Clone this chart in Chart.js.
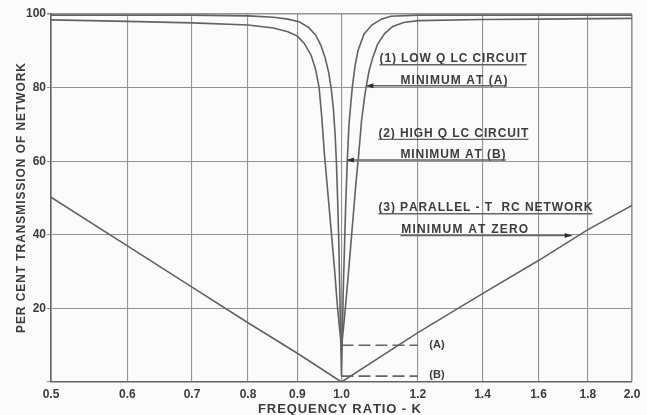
<!DOCTYPE html>
<html>
<head>
<meta charset="utf-8">
<script src="https://cdn.jsdelivr.net/npm/chart.js@4.4.1/dist/chart.umd.min.js"></script>
<style>
  html, body { margin:0; padding:0; background:#fbfbfb; }
  #wrap { width:647px; height:415px; }
</style>
</head>
<body>
<div id="wrap"><canvas id="chart" width="647" height="415"></canvas></div>
<script>
// Axis ticks
const kTicks = [0.5, 0.6, 0.7, 0.8, 0.9, 1.0, 1.2, 1.4, 1.6, 1.8, 2.0];
const yTicks = [0, 20, 40, 60, 80, 100];

// (1) Low Q LC circuit
const lowQK = [0.5, 0.6, 0.7, 0.8, 0.85, 0.88, 0.9, 0.915, 0.93, 0.94, 0.948, 0.954, 0.96, 0.966, 0.972, 0.978, 0.984, 0.99, 0.995, 1.0,
  1.005, 1.01, 1.017, 1.023, 1.029, 1.035, 1.042, 1.049, 1.056, 1.061, 1.068, 1.077, 1.09, 1.108, 1.13, 1.16, 1.2, 1.4, 1.6, 2.0];
const lowQT = [98.4, 98.0, 97.6, 97.0, 96.2, 95.2, 94.0, 92.0, 88.8, 85.0, 80.0, 72.0, 62.0, 54.0, 46.0, 38.0, 30.0, 21.0, 15.0, 10.0,
  15.0, 21.0, 30.0, 38.0, 46.0, 54.0, 62.0, 71.0, 77.0, 80.5, 84.5, 88.0, 91.8, 94.6, 96.6, 97.7, 98.2, 98.5, 98.6, 98.8];

// (2) High Q LC circuit
const highQK = [0.5, 0.7, 0.8, 0.85, 0.88, 0.905, 0.925, 0.94, 0.952, 0.962, 0.97, 0.976, 0.981, 0.985, 0.988, 0.991, 0.994, 0.996, 0.998, 1.0,
  1.002, 1.004, 1.007, 1.01, 1.014, 1.018, 1.026, 1.033, 1.04, 1.055, 1.075, 1.1, 1.125, 1.2, 2.0];
const highQT = [99.7, 99.7, 99.5, 99.1, 98.6, 97.8, 96.3, 94.3, 91.5, 88.0, 84.0, 79.5, 74.0, 67.0, 59.5, 49.0, 36.0, 24.0, 12.0, 1.6,
  12.0, 24.0, 36.0, 48.0, 60.5, 70.0, 80.0, 86.0, 90.0, 94.5, 97.0, 98.6, 99.4, 99.7, 99.7];

// (3) Parallel-T RC network
const rcK = [0.5, 0.6, 0.7, 0.8, 0.9, 1.0, 1.2, 1.4, 1.6, 1.8, 2.0];
const rcT = [50.2, 37.0, 25.8, 16.1, 7.8, 0.0, 13.4, 24.0, 33.0, 41.4, 48.0];

// Minimum markers (A) and (B)
const markK = [1.0, 1.2];
const minA = 10;
const minB = 1.6;

const ink = '#3c3c3c';
const lineColor = '#626262';
const gridColor = '#939393';
const frameColor = '#646464';

function pts(xs, ys){
  return xs.map((x, i) => ({x: x, y: ys[i]}));
}

function curve(data){
  return {data: data, showLine: true, borderColor: lineColor, borderWidth: 1.6,
    pointRadius: 0, tension: 0, fill: false};
}

// notes in data space (k, percent)
const noteText = [
  {text: '(1) LOW Q LC CIRCUIT', k: 1.095, t: 86.9, w: 147, under: true},
  {text: 'MINIMUM AT (A)', k: 1.151, t: 81.1, w: 107},
  {text: '(2) HIGH Q LC CIRCUIT', k: 1.092, t: 66.6, w: 150, under: true},
  {text: 'MINIMUM AT (B)', k: 1.151, t: 60.9, w: 105},
  {text: '(3) PARALLEL - T  RC NETWORK', k: 1.092, t: 46.4, w: 214, under: true},
  {text: 'MINIMUM AT ZERO', k: 1.153, t: 40.5, w: 127}
];
const leaders = [
  {from: [1.484, 80.5], to: [1.061, 80.5]},
  {from: [1.480, 60.3], to: [1.013, 60.3]},
  {from: [1.151, 39.8], to: [1.732, 39.8]}
];

// draw text spread to a given width
function fitText(ctx, text, x, y, width, center){
  const chars = [...text];
  const natural = chars.reduce((s, c) => s + ctx.measureText(c).width, 0);
  const gap = chars.length > 1 ? (width - natural) / (chars.length - 1) : 0;
  let cx = center ? x - width / 2 : x;
  ctx.textAlign = 'left';
  chars.forEach(c => {
    ctx.fillText(c, cx, y);
    cx += ctx.measureText(c).width + gap;
  });
}

const background = {
  id: 'background',
  beforeDraw(chart){
    const ctx = chart.ctx;
    ctx.save();
    ctx.fillStyle = '#fbfbfb';
    ctx.fillRect(0, 0, chart.width, chart.height);
    ctx.restore();
  }
};

const notes = {
  id: 'notes',
  afterDraw(chart){
    const ctx = chart.ctx;
    const xs = chart.scales.x, ys = chart.scales.y;
    ctx.save();
    ctx.fillStyle = ink;
    ctx.strokeStyle = frameColor;
    ctx.textBaseline = 'alphabetic';

    // axis titles
    ctx.font = 'bold 13px "Liberation Sans", Arial, sans-serif';
    fitText(ctx, 'FREQUENCY RATIO - K', (xs.left + xs.right) / 2 - 2, 413, 163, true);
    ctx.save();
    ctx.translate(25, 198);
    ctx.rotate(-Math.PI / 2);
    ctx.font = 'bold 12px "Liberation Sans", Arial, sans-serif';
    fitText(ctx, 'PER CENT TRANSMISSION OF NETWORK', 0, 0, 270, true);
    ctx.restore();

    // curve notes
    ctx.font = 'bold 12px "Liberation Sans", Arial, sans-serif';
    ctx.lineWidth = 1.4;
    noteText.forEach(n => {
      const x = xs.getPixelForValue(n.k), y = ys.getPixelForValue(n.t);
      fitText(ctx, n.text, x, y, n.w, false);
      if (n.under){
        ctx.beginPath();
        ctx.moveTo(x, y + 2.5);
        ctx.lineTo(x + n.w, y + 2.5);
        ctx.stroke();
      }
    });

    // leader lines with arrow heads
    ctx.lineWidth = 1.5;
    leaders.forEach(l => {
      const x0 = xs.getPixelForValue(l.from[0]), y0 = ys.getPixelForValue(l.from[1]);
      const x1 = xs.getPixelForValue(l.to[0]), y1 = ys.getPixelForValue(l.to[1]);
      ctx.beginPath();
      ctx.moveTo(x0, y0);
      ctx.lineTo(x1, y1);
      ctx.stroke();
      const dir = Math.sign(x1 - x0);
      ctx.beginPath();
      ctx.moveTo(x1, y1);
      ctx.lineTo(x1 - dir * 7, y1 - 2.5);
      ctx.lineTo(x1 - dir * 7, y1 + 2.5);
      ctx.closePath();
      ctx.fillStyle = '#2e2e2e';
      ctx.fill();
      ctx.fillStyle = ink;
    });

    // (A) and (B) labels
    ctx.font = 'bold 11px "Liberation Sans", Arial, sans-serif';
    ctx.textBaseline = 'middle';
    ctx.fillText('(A)', xs.getPixelForValue(1.233), ys.getPixelForValue(minA));
    ctx.fillText('(B)', xs.getPixelForValue(1.233), ys.getPixelForValue(minB) - 1);
    ctx.restore();
  }
};

const tickFont = {family: '"Liberation Sans", Arial, sans-serif', size: 12, weight: 'bold'};

new Chart(document.getElementById('chart'), {
  type: 'scatter',
  data: {
    datasets: [
      curve(pts(lowQK, lowQT)),
      curve(pts(highQK, highQT)),
      curve(pts(rcK, rcT)),
      {data: pts(markK, [minA, minA]), showLine: true, borderColor: frameColor, borderWidth: 1.6,
        borderDash: [12, 5], pointRadius: 0},
      {data: pts(markK, [minB, minB]), showLine: true, borderColor: frameColor, borderWidth: 1.6,
        borderDash: [12, 5], pointRadius: 0}
    ]
  },
  options: {
    responsive: false,
    animation: false,
    layout: {padding: {top: 14, right: 15, bottom: 0, left: 0}},
    plugins: {legend: {display: false}, tooltip: {enabled: false}},
    scales: {
      x: {
        type: 'logarithmic', min: 0.5, max: 2.0,
        afterBuildTicks: s => { s.ticks = kTicks.map(v => ({value: v})); },
        afterFit: s => { s.height = 33; },
        ticks: {callback: v => Number(v).toFixed(1), autoSkip: false, maxRotation: 0, padding: 5,
          color: ink, font: tickFont},
        grid: {color: gridColor, drawTicks: false,
          lineWidth: c => (c.tick && c.tick.value === 2) ? 1.6 : 1.1},
        border: {color: frameColor, width: 1.6}
      },
      y: {
        min: 0, max: 100,
        afterBuildTicks: s => { s.ticks = yTicks.map(v => ({value: v})); },
        afterFit: s => { s.width = 51; },
        ticks: {callback: v => v === 0 ? '' : v, padding: 1, color: ink, font: tickFont},
        grid: {color: gridColor, tickLength: 4,
          lineWidth: c => (c.tick && c.tick.value === 100) ? 1.6 : 1.1},
        border: {color: frameColor, width: 1.6}
      }
    }
  },
  plugins: [background, notes]
});
</script>
</body>
</html>
